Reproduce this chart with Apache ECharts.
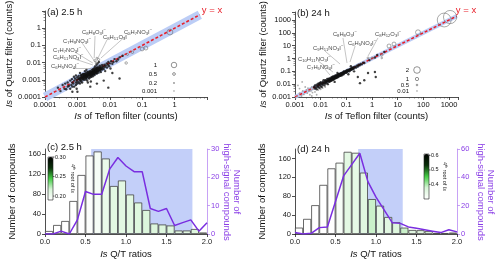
<!DOCTYPE html>
<html><head><meta charset="utf-8">
<script src="https://cdn.jsdelivr.net/npm/echarts/dist/echarts.min.js"></script>
<style>html,body{margin:0;padding:0;background:#fff}#c{width:500px;height:263px}</style>
</head><body><div id="c"></div>
<script>
// ---------- DATA ----------
// Panel (a) 2.5 h : Is Teflon (x) vs Is Quartz (y)
const cloudA = [
[0.00025,0.00035],[0.0003,0.00022],[0.00035,0.0005],[0.0004,0.0003],[0.00042,0.0006],[0.00045,0.00028],[0.0005,0.0004],[0.0005,0.0007],[0.00055,0.00045],[0.0006,0.0003],[0.0006,0.0009],[0.00065,0.0005],[0.0007,0.0007],[0.0007,0.0004],[0.00068,0.0011],
[0.00075,0.0006],[0.0008,0.0009],[0.0008,0.0004],[0.00085,0.0012],[0.0009,0.0007],[0.0009,0.0005],[0.00095,0.001],[0.001,0.0008],[0.001,0.0014],[0.001,0.0006],[0.0011,0.0011],[0.0011,0.0007],[0.0011,0.0017],[0.0012,0.0009],[0.0012,0.0013],[0.0012,0.0006],[0.0013,0.001],[0.0013,0.0016],[0.0013,0.0008],[0.0014,0.0012],[0.0014,0.002],[0.0014,0.0007],[0.0015,0.001],[0.0015,0.0014],[0.0015,0.0018],[0.00078,0.0015],[0.00095,0.0003],[0.0012,0.0025],[0.001,0.0002],[0.0009,0.0018],
[0.0016,0.0012],[0.0016,0.0017],[0.0016,0.0022],[0.0017,0.001],[0.0017,0.0014],[0.0018,0.0019],[0.0018,0.0013],[0.0018,0.0025],[0.0019,0.0016],[0.0019,0.0011],[0.002,0.002],[0.002,0.0015],[0.002,0.0028],[0.002,0.0009],[0.0021,0.0018],[0.0022,0.0023],[0.0022,0.0014],[0.0022,0.003],[0.0023,0.0019],[0.0023,0.0012],[0.0024,0.0026],[0.0024,0.0017],[0.0025,0.0021],[0.0025,0.0033],[0.0025,0.0014],[0.0026,0.0024],[0.0026,0.0018],[0.0027,0.0028],[0.0027,0.0015],[0.0028,0.0022],[0.0028,0.0036],[0.0029,0.0019],[0.0029,0.0027],[0.003,0.0024],[0.003,0.0016],[0.003,0.0041],[0.0017,0.0032],[0.0021,0.0007],[0.0026,0.0008],[0.0019,0.0038],
[0.0031,0.0029],[0.0032,0.0021],[0.0032,0.0035],[0.0033,0.0026],[0.0033,0.0047],[0.0034,0.0031],[0.0034,0.0019],[0.0035,0.0028],[0.0035,0.006],[0.0036,0.0038],[0.0036,0.0024],[0.0037,0.0033],[0.0038,0.0044],[0.0038,0.0027],[0.0039,0.0075],[0.004,0.0036],[0.004,0.0023],[0.004,0.0052],[0.0041,0.003],[0.0042,0.009],[0.0043,0.0041],[0.0044,0.0033],[0.0045,0.0057],[0.0045,0.0026],[0.0046,0.011],[0.0047,0.0038],[0.0048,0.0047],[0.005,0.0035],[0.005,0.0065],[0.0052,0.0042],[0.0053,0.0028],[0.0055,0.0055],[0.0057,0.0039],[0.0058,0.0072],[0.006,0.0048],
[0.0062,0.0058],[0.0065,0.0042],[0.0068,0.0075],[0.007,0.0055],[0.0072,0.0032],[0.0075,0.0068],[0.008,0.009],[0.0082,0.0052],[0.0088,0.0075],[0.009,0.011],[0.0095,0.0062],[0.01,0.009],[0.0105,0.0045],[0.011,0.012],[0.012,0.0085],[0.013,0.011],[0.014,0.016],[0.016,0.012],[0.018,0.015],[0.02,0.02],
[0.004,0.0006],[0.0025,0.0004],[0.0065,0.0009],[0.012,0.0025],[0.0007,0.0002],[0.009,0.00035],[0.02,0.0012],[0.025,0.025],
[0.0011,0.0012],[0.0012,0.0011],[0.0013,0.0013],[0.0014,0.0015],[0.0015,0.0012],[0.0016,0.0015],[0.0017,0.0018],[0.0018,0.0016],[0.0019,0.0021],[0.002,0.0017],[0.0021,0.0022],[0.0022,0.0019],[0.0023,0.0024],[0.0024,0.0021],[0.0025,0.0025],[0.0026,0.0021],[0.0027,0.0023],[0.0028,0.0029],[0.0029,0.0024],[0.003,0.003],[0.0031,0.0025],[0.0032,0.0031],[0.0033,0.0029],[0.0034,0.0036],[0.0035,0.0032],[0.0036,0.003],[0.0037,0.0039],[0.0038,0.0034],[0.0039,0.0031],[0.004,0.0042],[0.0042,0.0037],[0.0043,0.0034],[0.0044,0.0046],[0.0046,0.004],[0.0048,0.0036],[0.005,0.005],[0.0052,0.0046],[0.0055,0.0044],[0.0021,0.0026],[0.0024,0.0029],[0.0027,0.0019],[0.0031,0.0037],[0.0033,0.0022],[0.0036,0.0045],[0.0039,0.0025],[0.0041,0.0049],[0.0017,0.0021],[0.0019,0.0013],[0.0015,0.0022],[0.0013,0.0019]
];
// hollow circles: [teflon, quartz, size value]
const circA = [[0.72,0.6,1.05],[0.099,0.062,0.7],[0.13,0.07,0.7],[0.032,0.0095,0.45],[0.05,0.04,0.45],[0.035,0.03,0.4],[0.0035,0.013,0.4],[0.0045,0.015,0.4],[0.0038,0.0095,0.35],[0.004,0.018,0.35]];
const diagA = [[0.0001,0.0001],[6,6]];
const formulaA = ["C8H8O3I-","C8H11O3I-","C5H7NO3I-","C7H9NO3I-","C7H7NO3I-","C6H11NO3I-","C6H5NO4I-"];
const formulaPosA = [[0.00139,0.6],[0.0062,0.31],[0.0274,0.6],[0.00036,0.18],[0.000177,0.054],[0.000177,0.021],[0.000153,0.0063]];
const leaderA = [
 [[0.0035,0.35],[0.0033,0.0183]],
 [[0.0082,0.21],[0.0043,0.0183]],
 [[0.031,0.35],[0.0053,0.0183]],
 [[0.0014,0.138],[0.0035,0.0109]],
 [[0.00084,0.041],[0.003,0.0094]],
 [[0.00084,0.016],[0.003,0.0073]],
 [[0.00073,0.0048],[0.0028,0.0048]]
];
const sizeLegendA = [1, 0.5, 0.2, 0.001];

// Panel (b) 24 h
const cloudB = [
[0.0055,0.006],[0.006,0.0045],[0.006,0.008],[0.0065,0.0055],[0.007,0.009],[0.007,0.004],[0.0075,0.007],[0.008,0.011],[0.008,0.006],[0.0085,0.0085],[0.009,0.005],[0.009,0.012],[0.0095,0.0095],[0.01,0.007],[0.01,0.014],[0.011,0.01],[0.011,0.006],[0.012,0.015],[0.012,0.009],[0.013,0.012],[0.013,0.02],[0.014,0.008],[0.015,0.014],[0.015,0.011],[0.016,0.019],[0.017,0.012],[0.018,0.017],[0.018,0.025],[0.019,0.01],[0.02,0.016],
[0.021,0.021],[0.022,0.015],[0.022,0.028],[0.023,0.019],[0.024,0.024],[0.025,0.018],[0.025,0.032],[0.026,0.022],[0.027,0.027],[0.028,0.02],[0.028,0.036],[0.03,0.025],[0.03,0.03],[0.031,0.022],[0.032,0.04],[0.033,0.028],[0.034,0.034],[0.035,0.025],[0.036,0.045],[0.037,0.032],[0.038,0.038],[0.04,0.03],[0.04,0.05],[0.042,0.036],[0.043,0.043],[0.045,0.033],[0.046,0.055],[0.048,0.042],[0.05,0.05],[0.05,0.037],[0.052,0.062],[0.055,0.046],[0.057,0.057],[0.06,0.045],[0.06,0.07],[0.063,0.055],[0.065,0.065],[0.068,0.05],[0.07,0.08],[0.072,0.062],[0.075,0.072],[0.078,0.058],[0.08,0.09],[0.035,0.015],[0.045,0.075],
[0.085,0.075],[0.09,0.1],[0.095,0.08],[0.1,0.11],[0.1,0.085],[0.11,0.095],[0.11,0.13],[0.12,0.11],[0.13,0.14],[0.13,0.1],[0.14,0.12],[0.15,0.16],[0.16,0.13],[0.17,0.18],[0.18,0.15],[0.19,0.21],[0.2,0.17],[0.22,0.23],[0.24,0.2],[0.26,0.28],[0.28,0.24],[0.3,0.33],[0.33,0.3],[0.36,0.38],[0.4,0.35],[0.45,0.48],[0.5,0.45],[0.12,0.06],[0.2,0.1],[0.15,0.25],
[0.8,0.75],[1.3,1.2],[1.6,1.9],[3,3.2],
[0.28,0.036],[1.3,0.089],[1.4,0.036],[0.34,0.012],[0.7,0.075],[0.5,0.02],
[0.012,0.012],[0.014,0.014],[0.016,0.015],[0.017,0.016],[0.019,0.019],[0.021,0.018],[0.023,0.023],[0.024,0.021],[0.026,0.026],[0.027,0.024],[0.029,0.028],[0.031,0.029],[0.033,0.033],[0.035,0.031],[0.037,0.037],[0.039,0.035],[0.041,0.041],[0.044,0.04],[0.047,0.047],[0.049,0.045],[0.053,0.053],[0.056,0.051],[0.059,0.06],[0.062,0.058],[0.066,0.067],[0.07,0.066],[0.074,0.076],[0.078,0.073],[0.083,0.084],[0.088,0.083],[0.093,0.095],[0.098,0.093],[0.105,0.105],[0.115,0.11],[0.125,0.125],[0.135,0.13],[0.145,0.145],[0.155,0.15],[0.165,0.17],[0.175,0.165],[0.02,0.025],[0.025,0.02],[0.03,0.038],[0.04,0.033],[0.05,0.06],[0.06,0.05],[0.08,0.1],[0.1,0.08],[0.015,0.02],[0.01,0.012]
];
const greyB = [[0.0012,0.0011],[0.0015,0.002],[0.0018,0.0012],[0.002,0.003],[0.0022,0.0016],[0.0025,0.0009],[0.0028,0.0035],[0.003,0.002],[0.0032,0.005],[0.0035,0.0028],[0.0038,0.0015],[0.004,0.0045],[0.0042,0.003],[0.0045,0.006],[0.0048,0.0022],[0.005,0.004],[0.0015,0.0045],[0.0025,0.006],[0.0035,0.0008],[0.0045,0.0012],[0.0019,0.015],[0.0013,0.008],[0.006,0.0025],[0.008,0.0035],[0.01,0.004],[0.012,0.005],[0.007,0.0015],[0.015,0.006]];
const circB = [[650,1000,4.2],[1100,1700,4],[62,110,1.5],[4.6,9.4,1.2],[7.2,13.4,1.2],[2.4,1.9,0.8],[0.7,1.1,0.6],[1.0,1.1,0.6],[2.4,1.1,0.5]];
const diagB = [[0.001,0.001],[2000,2000]];
const formulaB = ["C8H8O3I-","C9H11NO3I-","C6H5NO4I-","C8H12O3I-","C10H11NO3I-","C7H5NO3I-"];
const formulaPosB = [[0.03,81],[0.005,6.6],[0.116,16],[1.31,81],[0.00131,0.91],[0.0029,0.22]];
const leaderB = [
 [[0.074,40],[0.106,0.45]],
 [[0.0147,3.8],[0.057,0.37]],
 [[0.22,9.4],[0.139,0.53]],
 [[1.71,40],[0.7,1.56]],
 [[0.0079,0.64],[0.03,0.089]],
 [[0.0147,0.15],[0.023,0.052]]
];
const sizeLegendB = [2, 1, 0.5, 0.01];

// Histograms
const binCenters = [0.05,0.15,0.25,0.35,0.45,0.55,0.65,0.75,0.85,0.95,1.05,1.15,1.25,1.35,1.45,1.55,1.65,1.75,1.85,1.95];
const countsC = [6,18,26,66,118,157,165,151,96,107,79,63,48,21,19,17,7,7,10,3];
const rootC   = [0.19,0.19,0.19,0.19,0.19,0.192,0.196,0.205,0.21,0.21,0.211,0.213,0.215,0.214,0.213,0.213,0.212,0.211,0.213,0.211];
const countsD = [13.5,32,61,104,139,151,174,172,130,74,60,36,25,13.5,8.5,8,6,2,2,3];
const rootD   = [0.30,0.30,0.30,0.30,0.30,0.315,0.355,0.35,0.36,0.385,0.355,0.36,0.365,0.385,0.36,0.36,0.365,0.355,0.355,0.355];
const ratioX  = [0,0.1,0.2,0.3,0.4,0.5,0.6,0.7,0.8,0.9,1.0,1.1,1.2,1.3,1.4,1.5,1.6,1.7,1.8,1.9,2.0];
const highC   = [0,0,1,0,5,15,14,14,23,27,24,22,22,9,8,9,3,4,5,1,4];
const highD   = [1,0,0.5,4.5,5,23,41,49,57,37,26,17,8,7.5,5,4,3,2,1,3,1.5];
const shadeC  = [0.57,1.82];
const shadeD  = [0.78,1.33];
const cbRangeC = [0.19,0.30], cbTicksC = [0.30,0.25,0.20];
const cbRangeD = [0.30,0.61], cbTicksD = [0.6,0.5,0.4];

// ---------- STYLE / HELPERS ----------
const F = 'Liberation Sans';
const PURPLE = '#7a2ee0', PURPLE_L = '#b98af2';
const BAND = '#bccdf6', SHADE = '#c3cff9';
const CB_COLORS = ['#ffffff','#d8f5d8','#44cc44','#0a300a','#000000'];

function richFormula(s){
  let out='';
  for (let i=0;i<s.length;i++){
    const ch=s[i];
    if (/[0-9]/.test(ch)) out += '{s|'+ch+'}';
    else if (ch==='-') out += '{p|\u2212}';
    else out += '{m|'+ch+'}';
  }
  return out;
}
const formulaRich = {
  m:{fontSize:5.8,fontFamily:F,color:'#111',lineHeight:8,verticalAlign:'middle'},
  s:{fontSize:4.2,fontFamily:F,color:'#111',lineHeight:4,verticalAlign:'bottom'},
  p:{fontSize:4.2,fontFamily:F,color:'#111',lineHeight:4,verticalAlign:'top'}
};
const nameRich = (fs)=>({i:{fontStyle:'italic',fontSize:fs,fontFamily:F,color:'#111'}, n:{fontSize:fs,fontFamily:F,color:'#111'}});

function logLabel(v){
  const e = Math.round(Math.log10(v));
  if (Math.abs(Math.log10(v)-e)>1e-6) return '';
  return e<0 ? Math.pow(10,e).toFixed(-e) : String(Math.pow(10,e));
}
function logAxis(gi,min,max,split,name,gap,isX){
  return {
    type:'log', gridIndex:gi, min, max, splitNumber:split, logBase:10,
    name, nameLocation:'middle', nameGap:gap,
    nameTextStyle:{fontSize:9.5,fontFamily:F,color:'#111',rich:nameRich(9.5)},
    axisLine:{show:true,lineStyle:{color:'#222',width:0.8}},
    axisTick:{show:true,length:3,lineStyle:{color:'#222',width:0.8}},
    minorTick:{show:true,splitNumber:5,length:1.5,lineStyle:{color:'#444',width:0.6}},
    splitLine:{show:false},
    axisLabel:{fontSize:7.5,fontFamily:F,color:'#111',margin:4,formatter:logLabel,showMaxLabel:false}
  };
}
function valAxis(gi,min,max,interval,opts){
  const c = opts.color||'#222';
  return Object.assign({
    type:'value', gridIndex:gi, min, max, interval,
    axisLine:{show:true,onZero:false,lineStyle:{color:opts.lineColor||c,width:0.8}},
    axisTick:{show:true,length:3,lineStyle:{color:opts.lineColor||c,width:0.8}},
    splitLine:{show:false},
    axisLabel:{fontSize:7.5,fontFamily:F,color:c,margin:4,showMaxLabel:opts.showMax!==false,formatter:opts.fmt}
  }, opts.extra||{});
}

// graphic helpers
function T(x,y,text,o){
  o=o||{};
  return {type:'text',x,y,rotation:o.rot||0,z:100,silent:true,
    style:{text,fontSize:o.fs||7,fontFamily:F,fill:o.color||'#111',fontStyle:o.italic?'italic':'normal',
      align:o.align||'left',verticalAlign:o.va||'middle',textAlign:o.align||'left',textVerticalAlign:o.va||'middle',rich:o.rich}};
}
function circ(cx,cy,r){
  return {type:'circle',z:100,silent:true,shape:{cx,cy,r},style:{fill:'none',stroke:'#666',lineWidth:0.7}};
}
function L(x1,y1,x2,y2,col){
  return {type:'line',z:100,silent:true,shape:{x1,y1,x2,y2},style:{stroke:col||'#222',lineWidth:0.7}};
}

const chart = echarts.init(document.getElementById('c'), null, {renderer:'canvas'});

const grids = [
  {left:45, top:11, width:162, height:86},
  {left:295, top:12, width:163, height:85},
  {left:45, top:149, width:162, height:85},
  {left:295, top:149, width:162, height:85}
].map(g=>Object.assign(g,{outerBoundsMode:'none',containLabel:false,show:false}));

const xAxes = [
  logAxis(0,0.0001,10,5,'{i|Is} of Teflon filter (counts)',14,true),
  logAxis(1,0.001,2240,6,'{i|Is} of Teflon filter (counts)',14,true),
  valAxis(2,0,2,0.5,{fmt:v=>v.toFixed(1),extra:{name:'{i|Is} Q/T ratios',nameLocation:'middle',nameGap:15,nameTextStyle:{fontSize:9.5,fontFamily:F,color:'#111',rich:nameRich(9.5)}}}),
  valAxis(3,0,2,0.5,{fmt:v=>v.toFixed(1),extra:{name:'{i|Is} Q/T ratios',nameLocation:'middle',nameGap:15,nameTextStyle:{fontSize:9.5,fontFamily:F,color:'#111',rich:nameRich(9.5)}}})
];
const yAxes = [
  logAxis(0,0.0001,10,5,'{i|Is} of Quartz filter (counts)',29,false),
  logAxis(1,0.001,4200,7,'{i|Is} of Quartz filter (counts)',26,false),
  valAxis(2,0,170,40,{showMax:false,extra:{name:'Number of compounds',nameLocation:'middle',nameGap:28,nameTextStyle:{fontSize:9.5,fontFamily:F,color:'#111'}}}),
  valAxis(2,0,30,10,{color:'#8a3ee6',lineColor:PURPLE_L,extra:{position:'right'}}),
  valAxis(3,0,180,40,{showMax:false,extra:{name:'Number of compounds',nameLocation:'middle',nameGap:28,nameTextStyle:{fontSize:9.5,fontFamily:F,color:'#111'}}}),
  valAxis(3,0,60,20,{color:'#8a3ee6',lineColor:PURPLE_L,extra:{position:'right'}})
];

function scatterPanel(ai, cloud, grey, circles, diag, bandW, sizeK, formulas, fpos, leaders){
  const s = [];
  s.push({type:'line',xAxisIndex:ai,yAxisIndex:ai,data:diag,symbol:'none',silent:true,z:1,
    lineStyle:{color:BAND,width:bandW,cap:'butt'}});
  s.push({type:'line',xAxisIndex:ai,yAxisIndex:ai,data:diag,symbol:'none',silent:true,z:2,
    lineStyle:{color:'#e8202a',width:1.6,type:[3,2]}});
  if (grey) s.push({type:'scatter',xAxisIndex:ai,yAxisIndex:ai,data:grey,symbolSize:1.8,silent:true,z:3,
    itemStyle:{color:'#999'}});
  s.push({type:'scatter',xAxisIndex:ai,yAxisIndex:ai,data:cloud,symbolSize:2.4,silent:true,z:4,
    itemStyle:{color:'#111'}});
  s.push({type:'scatter',xAxisIndex:ai,yAxisIndex:ai,data:circles,symbolSize:d=>sizeK*d[2],silent:true,z:5,
    itemStyle:{color:'rgba(255,255,255,0)',borderColor:'#666',borderWidth:0.7}});
  s.push({type:'lines',coordinateSystem:'cartesian2d',xAxisIndex:ai,yAxisIndex:ai,silent:true,z:6,
    data:leaders.map(c=>({coords:c})),lineStyle:{color:'#8a8a8a',width:0.5,opacity:1}});
  s.push({type:'scatter',xAxisIndex:ai,yAxisIndex:ai,data:fpos,symbolSize:0,silent:true,z:7,
    label:{show:true,position:'right',distance:0,formatter:p=>richFormula(formulas[p.dataIndex]),rich:formulaRich}});
  return s;
}

function histPanel(xi, yl, yr, counts, root, high, shade){
  return [
    {type:'line',xAxisIndex:xi,yAxisIndex:yl,data:[[0,0],[2,0]],symbol:'none',silent:true,z:0,
      lineStyle:{opacity:0},
      markArea:{silent:true,itemStyle:{color:SHADE,opacity:1},data:[[{xAxis:shade[0]},{xAxis:shade[1]}]]}},
    {type:'bar',xAxisIndex:xi,yAxisIndex:yl,data:binCenters.map((c,i)=>[c,counts[i],root[i]]),
      barWidth:8.1,silent:true,z:2,encode:{x:0,y:1},
      itemStyle:{borderColor:'#444',borderWidth:0.8}},
    {type:'line',xAxisIndex:xi,yAxisIndex:yr,data:ratioX.map((x,i)=>[x,high[i]]),symbol:'none',silent:true,z:3,
      lineStyle:{color:PURPLE,width:1.5}}
  ];
}

const series = [].concat(
  scatterPanel(0, cloudA, null, circA, diagA, 9, 5.5, formulaA, formulaPosA, leaderA),
  scatterPanel(1, cloudB, greyB, circB, diagB, 4, 3.3, formulaB, formulaPosB, leaderB)
);
const barCIndex = series.length + 1;
series.push(...histPanel(2,2,3,countsC,rootC,highC,shadeC));
const barDIndex = series.length + 1;
series.push(...histPanel(3,4,5,countsD,rootD,highD,shadeD));

const cbC = {x:48, y:157, w:5, h:43};
const cbD = {x:424, y:154, w:5, h:45};

const visualMap = [
  {type:'continuous',seriesIndex:barCIndex,dimension:2,min:cbRangeC[0],max:cbRangeC[1],
   inRange:{color:CB_COLORS},left:cbC.x,top:cbC.y,itemWidth:cbC.w,itemHeight:cbC.h,
   calculable:false,text:null,padding:0,borderWidth:0,showLabel:false},
  {type:'continuous',seriesIndex:barDIndex,dimension:2,min:cbRangeD[0],max:cbRangeD[1],
   inRange:{color:CB_COLORS},left:cbD.x,top:cbD.y,itemWidth:cbD.w,itemHeight:cbD.h,
   calculable:false,text:null,padding:0,borderWidth:0,showLabel:false}
];

const rootRich = {
  n:{fontSize:5.5,fontFamily:F,fill:'#111'},
  sp:{fontSize:3.8,fontFamily:F,fill:'#111',verticalAlign:'top',lineHeight:4},
  i:{fontSize:5.5,fontFamily:F,fill:'#111',fontStyle:'italic'}
};
const rootTitle = '{n|4}{sp|th}{n| root of }{i|Is}';

const graphic = [];
graphic.push(T(47,12,'(a) 2.5 h',{fs:9.5}));
graphic.push(T(297,13,'(b) 24 h',{fs:9.5}));
graphic.push(T(47,147,'(c) 2.5 h',{fs:9.5}));
graphic.push(T(297,149,'(d) 24 h',{fs:9.5}));
graphic.push(T(212,10,'y = x',{fs:9.5,color:'#e8202a',align:'center'}));
graphic.push(T(466,10,'y = x',{fs:9.5,color:'#e8202a',align:'center'}));
const legYA=[65,74,83,91];
sizeLegendA.forEach((v,i)=>{ graphic.push(T(157,legYA[i],String(v),{fs:6,align:'right'})); graphic.push(circ(174,legYA[i],Math.max(0.3,5.5*v/2))); });
const legYB=[70,79,85,91];
sizeLegendB.forEach((v,i)=>{ graphic.push(T(409,legYB[i],String(v),{fs:6,align:'right'})); graphic.push(circ(417,legYB[i],Math.max(0.3,3.3*v/2))); });
function cbDecor(cb,range,ticks,dec,titleX){
  graphic.push({type:'rect',z:100,silent:true,shape:{x:cb.x,y:cb.y,width:cb.w,height:cb.h},style:{fill:'none',stroke:'#222',lineWidth:0.6}});
  ticks.forEach(t=>{
    const y = cb.y + (range[1]-t)/(range[1]-range[0])*cb.h;
    graphic.push(L(cb.x+cb.w,y,cb.x+cb.w+1.5,y));
    graphic.push(T(cb.x+cb.w+2,y,t.toFixed(dec),{fs:5.5}));
  });
  graphic.push(T(titleX,cb.y+cb.h/2,rootTitle,{fs:5.5,align:'center',rot:-Math.PI/2,rich:rootRich}));
}
cbDecor(cbC,cbRangeC,cbTicksC,2,73);
cbDecor(cbD,cbRangeD,cbTicksD,1,445);
graphic.push(T(232,192,'Number of\nhigh-signal compounds',{fs:9.5,color:'#8a3ee6',align:'center',rot:-Math.PI/2}));
graphic.push(T(486,192,'Number of\nhigh-signal compounds',{fs:9.5,color:'#8a3ee6',align:'center',rot:-Math.PI/2}));

chart.setOption({
  animation:false,
  backgroundColor:'#ffffff',
  textStyle:{fontFamily:F},
  grid:grids, xAxis:xAxes, yAxis:yAxes, series, visualMap, graphic
});
</script></body></html>
